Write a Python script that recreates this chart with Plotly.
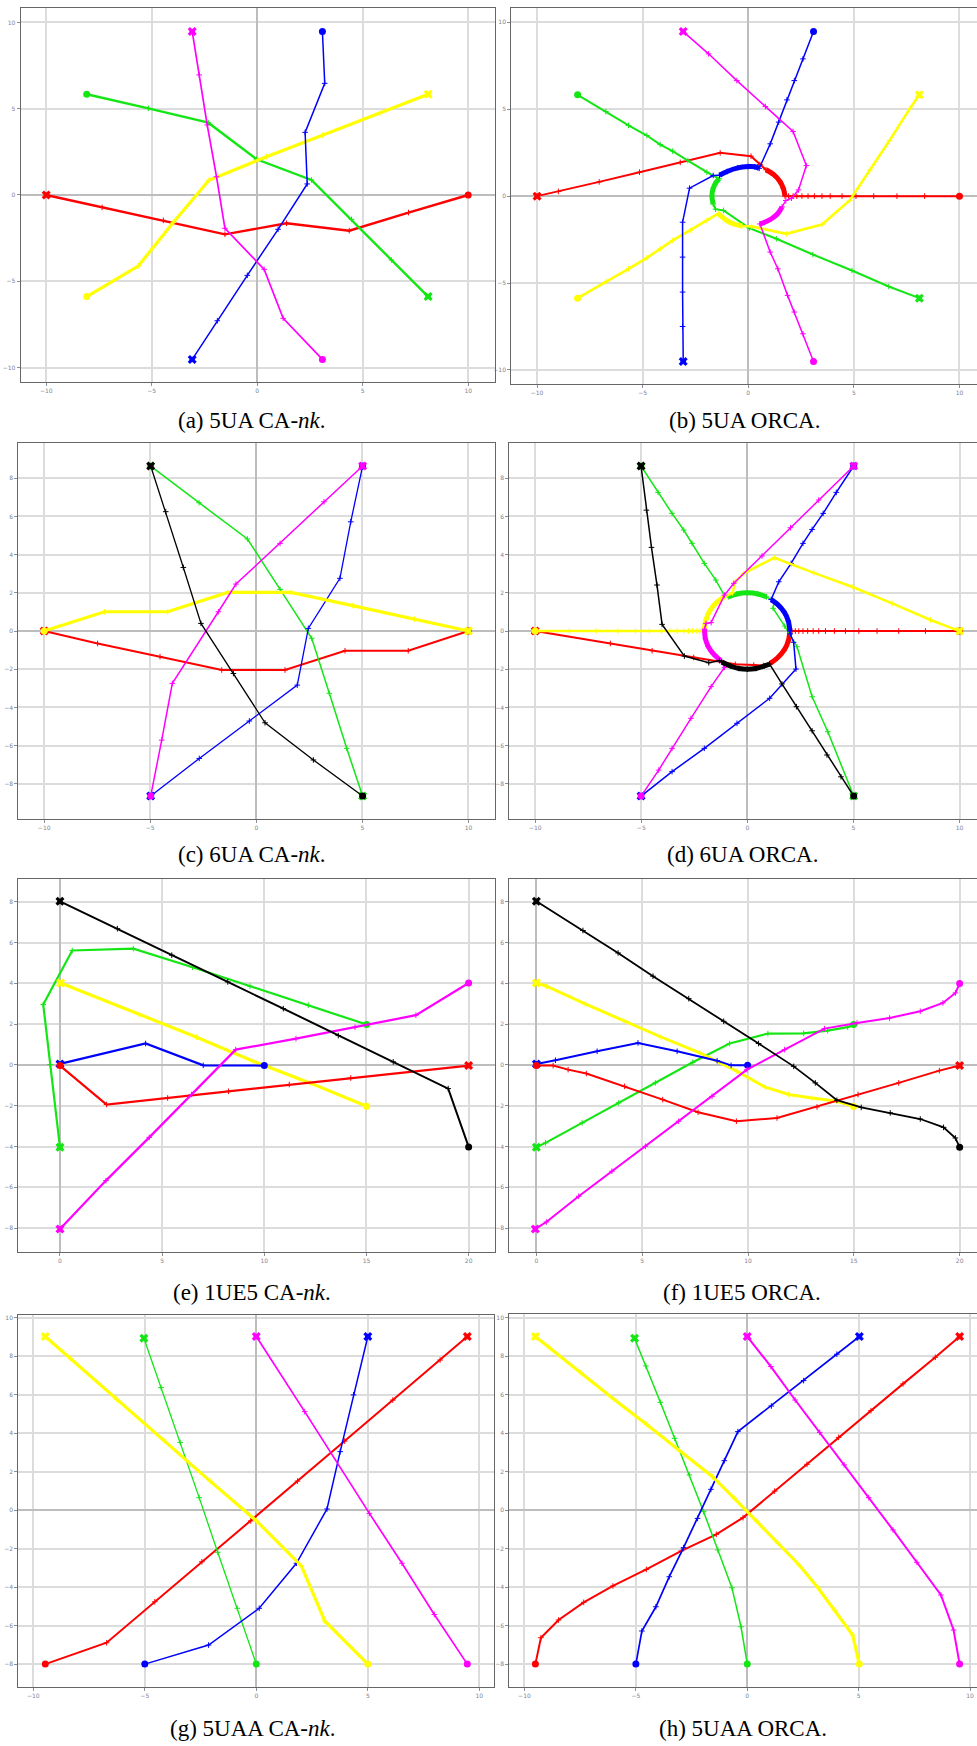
import plotly.graph_objects as go

# ---------------- data ----------------
# (a) 5UA CA-nk
a_red = [(-10, 0), (-7.35, -0.72), (-4.45, -1.47), (-1.53, -2.28), (1.39, -1.64), (4.36, -2.07), (7.17, -1.02), (10, 0)]
a_green = [(8.1, -5.89), (6.36, -3.77), (4.47, -1.41), (2.57, 0.87), (-0.03, 2.07), (-2.32, 4.19), (-5.16, 5.02), (-8.08, 5.84)]
a_yellow = [(8.1, 5.84), (5.81, 4.73), (3.09, 3.46), (0.44, 2.22), (-2.29, 0.85), (-3.98, -1.6), (-5.64, -4.12), (-8.08, -5.89)]
a_blue = [(-3.08, -9.53), (-1.89, -7.29), (-0.47, -4.66), (0.99, -1.99), (2.37, 0.64), (2.27, 3.63), (3.2, 6.47), (3.09, 9.47)]
a_magenta = [(-3.08, 9.47), (-2.75, 6.96), (-2.37, 4.06), (-1.93, 1.06), (-1.53, -1.93), (0.33, -4.31), (1.23, -7.15), (3.09, -9.53)]

# (b) 5UA ORCA : approach / arc around the obstacle / exit
b_red_a = [(-10, 0), (-8.99, 0.27), (-7.06, 0.82), (-5.15, 1.38), (-3.22, 1.94), (-1.33, 2.49), (0.13, 2.3), (0.55, 1.82)]
b_red_c = [(0.84, 1.52), (1.22, 1.22), (1.49, 0.86), (1.66, 0.45), (1.74, 0)]
b_red_b = [(1.91, 0), (2.12, 0), (2.3, 0), (2.54, 0), (2.83, 0), (3.13, 0), (3.49, 0), (3.88, 0), (4.44, 0), (5.1, 0), (5.94, 0), (7.04, 0), (8.35, 0), (10, 0)]
b_blue_a = [(-3.08, -9.51), (-3.11, -7.5), (-3.11, -5.52), (-3.11, -3.51), (-3.11, -1.5), (-2.78, 0.46), (-1.66, 1.19)]
b_blue_c = [(-1.36, 1.2), (-1.0, 1.42), (-0.5, 1.63), (0, 1.7), (0.3, 1.69), (0.52, 1.6)]
b_blue_b = [(1.04, 3.01), (1.44, 4.26), (1.83, 5.54), (2.18, 6.65), (2.59, 7.9), (3.09, 9.47)]
b_green_a = [(8.1, -5.87), (6.65, -5.2), (4.91, -4.28), (3.06, -3.36), (1.33, -2.45), (0.05, -1.84), (-1.17, -0.82), (-1.55, -0.75)]
b_green_c = [(-1.66, -0.45), (-1.72, 0), (-1.66, 0.45), (-1.52, 0.8), (-1.37, 1.0)]
b_green_b = [(-1.96, 1.38), (-2.86, 2.05), (-3.58, 2.59), (-4.17, 2.97), (-4.8, 3.49), (-5.67, 4.07), (-6.74, 4.87), (-8.08, 5.83)]
b_yellow_a = [(8.1, 5.83), (7.64, 5.02), (6.69, 3.2), (5.75, 1.51), (4.8, -0.25), (3.49, -1.63), (1.8, -2.17), (0.16, -1.74)]
b_yellow_c = [(-0.3, -1.72), (-0.7, -1.6), (-1.05, -1.38), (-1.42, -1.01)]
b_yellow_b = [(-1.96, -1.4), (-2.75, -1.98), (-3.58, -2.55), (-4.17, -3.03), (-4.8, -3.55), (-5.67, -4.18), (-6.74, -4.91), (-8.08, -5.87)]
b_magenta_a = [(-3.08, 9.47), (-1.88, 8.19), (-0.54, 6.65), (0.81, 5.16), (2.12, 3.72), (2.75, 1.76), (2.38, 0.36), (2.05, -0.12), (1.78, -0.25)]
b_magenta_c = [(1.6, -0.62), (1.4, -1.0), (1.1, -1.3), (0.75, -1.52), (0.55, -1.6)]
b_magenta_b = [(1.04, -3.22), (1.4, -4.18), (1.86, -5.71), (2.18, -6.67), (2.59, -7.92), (3.09, -9.51)]

# (c) 6UA CA-nk
c_red = [(-10, 0), (-7.48, -0.65), (-4.54, -1.34), (-1.63, -2.04), (1.35, -2.04), (4.18, -1.03), (7.16, -1.03), (10, 0)]
c_green = [(5.01, -8.64), (4.26, -6.14), (3.44, -3.26), (2.61, -0.38), (1.12, 2.18), (-0.42, 4.82), (-2.7, 6.72), (-4.98, 8.64)]
c_blue = [(-4.98, -8.64), (-2.69, -6.67), (-0.33, -4.71), (1.93, -2.83), (2.45, 0.14), (3.94, 2.76), (4.45, 5.72), (5.01, 8.64)]
c_black = [(-4.98, 8.64), (-4.27, 6.25), (-3.44, 3.33), (-2.61, 0.4), (-1.08, -2.22), (0.41, -4.8), (2.69, -6.75), (5.01, -8.64)]
c_magenta = [(5.01, 8.64), (3.19, 6.77), (1.12, 4.59), (-0.96, 2.46), (-1.79, 1.01), (-3.96, -2.74), (-4.46, -5.71), (-4.98, -8.64)]
c_yellow = [(10, 0), (7.45, 0.63), (4.54, 1.33), (1.63, 2.02), (-1.35, 2.02), (-4.18, 1.01), (-7.16, 1.01), (-10, 0)]

# (d) 6UA ORCA
d_red_a = [(-10, 0), (-6.46, -0.65), (-4.49, -1.03), (-2.53, -1.38), (-0.57, -1.74), (0.3, -1.78), (0.75, -1.8)]
d_red_c = [(1.08, -1.69), (1.41, -1.41), (1.73, -1.0), (1.93, -0.52), (2.0, 0)]
d_red_b = [(2.1, 0), (2.26, 0), (2.42, 0), (2.62, 0), (2.84, 0), (3.1, 0), (3.36, 0), (3.68, 0), (4.1, 0), (4.62, 0), (5.25, 0), (6.11, 0), (7.13, 0), (8.39, 0), (10, 0)]
d_green_a = [(5.01, -8.64), (3.79, -5.27), (3.05, -3.44), (2.34, -0.82), (1.76, 0.26), (1.21, 1.19), (1.27, 1.55)]
d_green_c = [(0.9, 1.79), (0.5, 1.94), (0, 2.0), (-0.5, 1.94), (-0.9, 1.79)]
d_green_b = [(-1.08, 1.85), (-1.49, 2.67), (-2.03, 3.54), (-2.61, 4.59), (-3.0, 5.29), (-3.55, 6.16), (-4.21, 7.26), (-5.01, 8.64)]
d_blue_a = [(-5.01, -8.64), (-3.55, -7.36), (-2.03, -6.14), (-0.49, -4.83), (1.05, -3.52), (2.29, -1.99), (2.18, -0.59), (2.02, -0.15)]
d_blue_c = [(2.0, 0), (1.93, 0.52), (1.73, 1.0), (1.41, 1.41), (1.12, 1.65)]
d_blue_b = [(1.48, 2.58), (2.06, 3.54), (2.62, 4.59), (3.05, 5.32), (3.57, 6.16), (4.19, 7.26), (5.01, 8.64)]
d_yellow_a = [(10, 0), (8.63, 0.58), (6.82, 1.45), (4.93, 2.32), (3.13, 3.05), (1.27, 3.84), (-0.17, 3.02), (-0.57, 2.58), (-0.7, 2.0)]
d_yellow_c = [(-1.1, 1.78), (-1.45, 1.5), (-1.75, 1.1), (-1.95, 0.6), (-2.02, 0.2), (-2.03, 0)]
d_yellow_b = [(-2.14, 0), (-2.26, 0), (-2.41, 0), (-2.58, 0), (-2.77, 0), (-3.0, 0), (-3.31, 0), (-3.66, 0), (-4.05, 0), (-4.62, 0), (-5.28, 0), (-6.1, 0), (-7.13, 0), (-8.39, 0), (-10, 0)]
d_magenta_a = [(5.01, 8.64), (3.36, 6.86), (2.03, 5.41), (0.69, 3.93), (-0.64, 2.5), (-1.08, 1.88), (-1.71, 0.44), (-1.95, 0.4)]
d_magenta_c = [(-2.02, 0.1), (-1.98, -0.4), (-1.85, -0.8), (-1.6, -1.2), (-1.25, -1.55)]
d_magenta_b = [(-1.08, -1.9), (-1.71, -2.91), (-2.66, -4.57), (-3.55, -6.14), (-4.18, -7.28), (-5.01, -8.64)]
d_black_a = [(-5.01, 8.64), (-4.76, 6.33), (-4.52, 4.38), (-4.26, 2.41), (-4.02, 0.35), (-2.97, -1.31), (-1.82, -1.66), (-1.32, -1.55)]
d_black_c = [(-1.2, -1.62), (-0.8, -1.83), (-0.4, -1.96), (0, -2.0), (0.4, -1.96), (0.8, -1.83), (1.04, -1.72)]
d_black_b = [(1.63, -2.77), (2.31, -3.96), (3.05, -5.22), (3.75, -6.49), (4.41, -7.63), (5.01, -8.64)]

# (e) 1UE5 CA-nk
e_black = [(0, 8.02), (2.81, 6.68), (5.47, 5.38), (8.21, 4.07), (10.93, 2.76), (13.62, 1.44), (16.31, 0.15), (19.0, -1.16), (20, -4.02)]
e_green = [(0, -4.04), (-0.49, 0.02), (-0.82, 2.96), (0.6, 5.61), (3.59, 5.7), (6.49, 4.79), (9.3, 3.86), (12.15, 2.93), (15.01, 1.98)]
e_yellow = [(0.03, 4.02), (3.88, 2.47), (6.69, 1.36), (9.46, 0.18), (12.23, -0.88), (15.01, -2.03)]
e_blue = [(0, 0.05), (4.19, 1.05), (7.01, -0.02), (10, -0.03)]
e_red = [(20, -0.03), (14.23, -0.64), (11.22, -0.96), (8.25, -1.29), (5.27, -1.62), (2.28, -1.94), (0, -0.03)]
e_magenta = [(0, -8.04), (2.25, -5.67), (4.37, -3.55), (6.44, -1.45), (8.6, 0.75), (11.55, 1.29), (14.44, 1.85), (17.42, 2.44), (20, 4.02)]

# (f) 1UE5 ORCA
f_black = [(0, 8.02), (2.2, 6.59), (3.86, 5.49), (5.51, 4.35), (7.2, 3.25), (8.85, 2.14), (10.5, 1.05), (12.16, -0.07), (13.18, -0.88), (14.2, -1.73), (15.35, -2.08), (16.72, -2.35), (18.14, -2.65), (19.24, -3.06), (19.8, -3.58), (20, -4.04)]
f_green = [(0, -4.04), (0.43, -3.82), (2.16, -2.84), (3.89, -1.86), (5.62, -0.88), (7.39, 0.13), (9.13, 1.05), (10.94, 1.54), (12.63, 1.55), (13.76, 1.68), (14.71, 1.85), (14.99, 1.98)]
f_yellow = [(0, 4.02), (0.47, 3.86), (2.31, 2.99), (4.13, 2.17), (5.89, 1.37), (7.72, 0.59), (9.48, -0.31), (10.82, -1.09), (11.92, -1.45), (13.02, -1.62), (14.2, -1.78), (14.99, -2.04)]
f_blue = [(0, 0.05), (0.9, 0.23), (2.87, 0.67), (4.8, 1.08), (6.65, 0.67), (8.54, 0.21), (9.2, -0.02), (9.98, -0.02)]
f_red = [(20, -0.03), (19.04, -0.28), (17.12, -0.88), (15.2, -1.45), (13.26, -2.06), (11.37, -2.6), (9.45, -2.76), (7.64, -2.32), (5.97, -1.7), (4.17, -1.05), (2.36, -0.42), (1.5, -0.23), (0.79, -0.03), (0, -0.03)]
f_magenta = [(-0.05, -8.04), (0.47, -7.7), (2.0, -6.44), (3.57, -5.21), (5.15, -3.99), (6.72, -2.76), (8.3, -1.54), (9.95, -0.23), (11.73, 0.75), (13.61, 1.78), (15.15, 2.06), (16.69, 2.3), (18.14, 2.63), (19.21, 3.04), (19.8, 3.53), (20, 3.99)]

# (g) 5UAA CA-nk
g_red = [(9.46, 9.03), (8.24, 7.81), (6.12, 5.73), (3.96, 3.6), (1.85, 1.52), (-0.25, -0.55), (-2.44, -2.67), (-4.55, -4.75), (-6.71, -6.88), (-9.46, -7.99)]
g_green = [(-5.04, 8.94), (-4.27, 6.38), (-3.41, 3.53), (-2.56, 0.66), (-1.73, -2.18), (-0.85, -5.09), (0, -7.99)]
g_blue = [(5, 9.03), (4.36, 6.0), (3.76, 3.05), (3.17, 0.07), (1.8, -2.75), (0.13, -5.09), (-2.14, -7.0), (-5.0, -7.99)]
g_magenta = [(0, 9.03), (2.17, 5.13), (5.07, -0.16), (6.53, -2.75), (7.98, -5.41), (9.46, -7.99)]
g_yellow = [(-9.46, 9.03), (-8.35, 7.9), (-6.26, 5.77), (-4.15, 3.66), (-2.07, 1.52), (0.01, -0.55), (2.02, -2.89), (3.07, -5.75), (5, -7.99)]

# (h) 5UAA ORCA
h_red = [(9.53, 9.03), (8.44, 7.95), (6.99, 6.57), (5.55, 5.18), (4.1, 3.79), (2.68, 2.39), (1.23, 1.0), (-0.19, -0.38), (-1.39, -1.25), (-2.96, -2.11), (-4.53, -3.07), (-6.03, -3.93), (-7.34, -4.78), (-8.47, -5.7), (-9.26, -6.62), (-9.51, -7.99)]
h_green = [(-5.06, 8.94), (-4.55, 7.5), (-3.9, 5.61), (-3.26, 3.74), (-2.6, 1.84), (-1.96, -0.07), (-1.32, -2.06), (-0.69, -4.02), (-0.28, -6.05), (0, -7.99)]
h_blue = [(5.03, 9.03), (4.02, 8.11), (2.53, 6.74), (1.08, 5.42), (-0.42, 4.09), (-1.03, 2.58), (-1.63, 1.09), (-2.23, -0.42), (-2.86, -1.94), (-3.5, -3.45), (-4.1, -5.01), (-4.73, -6.27), (-5.0, -7.99)]
h_magenta = [(0, 9.03), (1.06, 7.47), (2.15, 5.73), (3.25, 4.05), (4.35, 2.36), (5.45, 0.66), (6.54, -1.02), (7.61, -2.7), (8.69, -4.4), (9.26, -6.22), (9.53, -7.99)]
h_yellow = [(-9.51, 9.03), (-8.95, 8.51), (-7.46, 7.16), (-6.0, 5.79), (-4.53, 4.47), (-3.04, 3.08), (-1.56, 1.75), (-0.58, 0.62), (0.4, -0.55), (1.36, -1.68), (2.33, -2.84), (3.17, -4.02), (3.92, -5.18), (4.73, -6.48), (5.03, -7.99)]

# tick labels
ticks_10 = [-10, -5, 0, 5, 10]
ticks_8 = [-8, -6, -4, -2, 0, 2, 4, 6, 8]
ticks_20 = [0, 5, 10, 15, 20]
ticks_10b = [-8, -6, -4, -2, 0, 2, 4, 6, 8, 10]

captions = ["(a) 5UA CA-<i>nk</i>.", "(b) 5UA ORCA.", "(c) 6UA CA-<i>nk</i>.", "(d) 6UA ORCA.",
            "(e) 1UE5 CA-<i>nk</i>.", "(f) 1UE5 ORCA.", "(g) 5UAA CA-<i>nk</i>.", "(h) 5UAA ORCA."]

# ---------------- styling / layout ----------------
W, H = 977, 1746
COL = {"red": "#ff0000", "green": "#14e614", "blue": "#0000ff", "magenta": "#ff00ff",
       "yellow": "#ffff00", "black": "#000000"}

# panels: pixel box (left, top, right, bottom), x range, y range, x ticks, y ticks, caption centre
panels = [
    dict(box=(20.7, 8.3, 495, 382), xr=(-11.21, 11.27), yr=(-10.84, 10.82), xt=ticks_10, yt=ticks_10, cap=(252, 420)),
    dict(box=(511.3, 8.3, 977, 384), xr=(-11.22, 10.83), yr=(-10.81, 10.81), xt=ticks_10, yt=ticks_10, cap=(744, 420)),
    dict(box=(18.3, 443.3, 495, 819), xr=(-11.22, 11.25), yr=(-9.84, 9.83), xt=ticks_10, yt=ticks_8, cap=(252, 854)),
    dict(box=(509.3, 443.3, 977, 819), xr=(-11.22, 10.82), yr=(-9.84, 9.83), xt=ticks_10, yt=ticks_8, cap=(742, 854)),
    dict(box=(18.3, 878.7, 495, 1252), xr=(-2.04, 21.29), yr=(-9.17, 9.13), xt=ticks_20, yt=ticks_8, cap=(252, 1292)),
    dict(box=(509.3, 878.7, 977, 1252), xr=(-1.28, 20.82), yr=(-9.17, 9.13), xt=ticks_20, yt=ticks_8, cap=(742, 1292)),
    dict(box=(18.3, 1315, 494.3, 1687), xr=(-10.67, 10.67), yr=(-9.18, 10.15), xt=ticks_10, yt=ticks_10b, cap=(252, 1728)),
    dict(box=(509.3, 1314, 977, 1687), xr=(-10.68, 10.31), yr=(-9.18, 10.2), xt=ticks_10, yt=ticks_10b, cap=(743, 1728)),
]

# series per panel: (colour, path, arc-or-None, line width)
series = [
    [("red", a_red, None, 2.4), ("green", a_green, None, 2.4), ("yellow", a_yellow, None, 3.2),
     ("blue", a_blue, None, 1.5), ("magenta", a_magenta, None, 1.7)],
    [("red", b_red_a + b_red_c + b_red_b, b_red_c, 2.0), ("green", b_green_a + b_green_c + b_green_b, b_green_c, 2.0),
     ("yellow", b_yellow_a + b_yellow_c + b_yellow_b, b_yellow_c, 2.6), ("blue", b_blue_a + b_blue_c + b_blue_b, b_blue_c, 1.5),
     ("magenta", b_magenta_a + b_magenta_c + b_magenta_b, b_magenta_c, 1.5)],
    [("red", c_red, None, 2.0), ("green", c_green, None, 1.5), ("blue", c_blue, None, 1.3),
     ("yellow", c_yellow, None, 3.2), ("magenta", c_magenta, None, 1.5), ("black", c_black, None, 1.3)],
    [("red", d_red_a + d_red_c + d_red_b, d_red_c, 2.0), ("green", d_green_a + d_green_c + d_green_b, d_green_c, 1.5),
     ("blue", d_blue_a + d_blue_c + d_blue_b, d_blue_c, 1.5), ("yellow", d_yellow_a + d_yellow_c + d_yellow_b, d_yellow_c, 2.5),
     ("magenta", d_magenta_a + d_magenta_c + d_magenta_b, d_magenta_c, 1.5), ("black", d_black_a + d_black_c + d_black_b, d_black_c, 1.5)],
    [("green", e_green, None, 2.2), ("yellow", e_yellow, None, 3.2), ("blue", e_blue, None, 2.2),
     ("red", e_red, None, 2.2), ("magenta", e_magenta, None, 2.2), ("black", e_black, None, 2.0)],
    [("green", f_green, None, 2.2), ("yellow", f_yellow, None, 3.0), ("blue", f_blue, None, 2.0),
     ("red", f_red, None, 2.0), ("magenta", f_magenta, None, 2.0), ("black", f_black, None, 1.8)],
    [("red", g_red, None, 2.0), ("green", g_green, None, 1.3), ("blue", g_blue, None, 1.5),
     ("yellow", g_yellow, None, 3.2), ("magenta", g_magenta, None, 1.7)],
    [("red", h_red, None, 2.0), ("green", h_green, None, 1.5), ("blue", h_blue, None, 1.7),
     ("yellow", h_yellow, None, 3.2), ("magenta", h_magenta, None, 2.0)],
]

fig = go.Figure()
annotations = []

for i, (p, ser) in enumerate(zip(panels, series), start=1):
    l, t, r, b = p["box"]
    xa = "xaxis" if i == 1 else f"xaxis{i}"
    ya = "yaxis" if i == 1 else f"yaxis{i}"
    xref = "x" if i == 1 else f"x{i}"
    yref = "y" if i == 1 else f"y{i}"
    common = dict(showgrid=True, gridcolor="#dcdcdc", gridwidth=2, zeroline=True,
                  zerolinecolor="#bdbdbd", zerolinewidth=2, showline=True, mirror=True,
                  linecolor="#666666", linewidth=1.2, ticks="outside", ticklen=3,
                  tickcolor="#8a8f9c", tickwidth=1, tickfont=dict(size=6, color="#7d8394", family="DejaVu Sans"),
                  fixedrange=True)
    fig.update_layout(**{
        xa: dict(domain=[l / W, min(r / W, 1.0)], range=list(p["xr"]), tickvals=p["xt"], anchor=yref, **common),
        ya: dict(domain=[1 - b / H, 1 - t / H], range=list(p["yr"]), tickvals=p["yt"], anchor=xref, **common),
    })
    for colname, path, arc, lw in ser:
        c = COL[colname]
        xs = [q[0] for q in path]
        ys = [q[1] for q in path]
        fig.add_trace(go.Scatter(x=xs, y=ys, xaxis=xref, yaxis=yref, mode="lines+markers",
                                 line=dict(color=c, width=lw),
                                 marker=dict(symbol="cross-thin", size=4, color=c, line=dict(color=c, width=1)),
                                 showlegend=False, hoverinfo="skip"))
        if arc is not None:
            fig.add_trace(go.Scatter(x=[q[0] for q in arc], y=[q[1] for q in arc], xaxis=xref, yaxis=yref,
                                     mode="lines", line=dict(color=c, width=5, shape="spline"),
                                     showlegend=False, hoverinfo="skip"))
        fig.add_trace(go.Scatter(x=[xs[0]], y=[ys[0]], xaxis=xref, yaxis=yref, mode="markers",
                                 marker=dict(symbol="x", size=8, color=c), showlegend=False, hoverinfo="skip"))
        fig.add_trace(go.Scatter(x=[xs[-1]], y=[ys[-1]], xaxis=xref, yaxis=yref, mode="markers",
                                 marker=dict(symbol="circle", size=7, color=c), showlegend=False, hoverinfo="skip"))
    cx, cy = p["cap"]
    annotations.append(dict(text=captions[i - 1], x=cx / W, y=1 - cy / H, xref="paper", yref="paper",
                            showarrow=False, xanchor="center", yanchor="middle",
                            font=dict(family="Liberation Serif, Times New Roman, serif", size=23, color="#000000")))

fig.update_layout(width=W, height=H, autosize=False, margin=dict(l=0, r=0, t=0, b=0, pad=0),
                  paper_bgcolor="white", plot_bgcolor="white", annotations=annotations, showlegend=False)

fig.write_html("out.html", config={"displayModeBar": False},
               post_script="document.body.style.margin='0';document.body.style.overflow='hidden';")
